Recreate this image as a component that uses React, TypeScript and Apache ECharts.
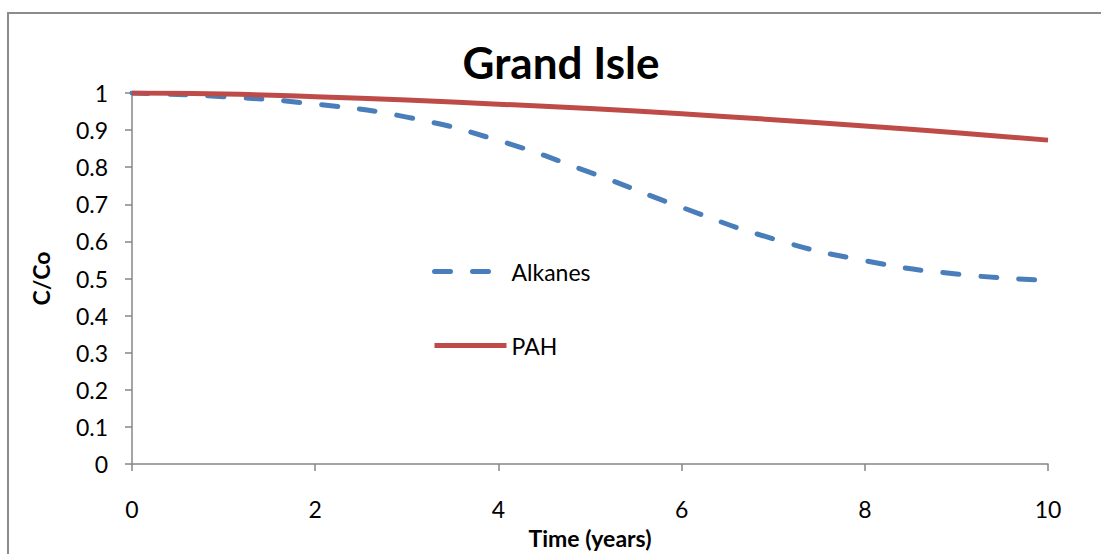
import React, { useEffect, useRef } from "react";
import * as echarts from "echarts";

const years = [0, 1, 2, 3, 4, 5, 6, 7, 8, 9, 10];
const alkanes = [1.0, 0.99, 0.97, 0.935, 0.872, 0.786, 0.692, 0.607, 0.548, 0.512, 0.495];
const pah = [1.0, 0.997, 0.99, 0.981, 0.97, 0.958, 0.944, 0.928, 0.911, 0.893, 0.873];
const seriesNames = ["Alkanes", "PAH"];
const titleText = "Grand Isle";
const xName = "Time (years)";
const yName = "C/Co";

const FONT = "Lato";

export default function App() {
  const ref = useRef<HTMLDivElement>(null);
  useEffect(() => {
    document.body.style.margin = "0";
    if (!ref.current) return;
    const chart = echarts.init(ref.current, undefined, { renderer: "svg" });
    const axisColor = "#868686";
    chart.setOption({
      animation: false,
      backgroundColor: "#ffffff",
      title: {
        text: titleText,
        left: 556,
        textAlign: "center",
        top: 35,
        textStyle: { fontFamily: FONT, fontWeight: "bold", fontSize: 44, color: "#000" },
      },
      graphic: [
        {
          type: "line",
          shape: { x1: 8, y1: 12, x2: 8, y2: 600 },
          style: { stroke: "#8c8c8c", lineWidth: 2 },
          silent: true,
        },
        {
          type: "line",
          shape: { x1: 7, y1: 13, x2: 1200, y2: 13 },
          style: { stroke: "#8c8c8c", lineWidth: 2 },
          silent: true,
        },
      ],
      legend: {
        orient: "vertical",
        left: 427,
        top: 255,
        itemWidth: 72,
        itemHeight: 26,
        itemGap: 51,
        itemStyle: { opacity: 0 },
        lineStyle: { width: 5 },
        textStyle: { fontFamily: FONT, fontSize: 23, color: "#000" },
        data: seriesNames,
      },
      grid: { left: 132, width: 916, top: 93, height: 374, containLabel: false },
      xAxis: {
        type: "value",
        min: 0,
        max: 10,
        interval: 2,
        name: xName,
        nameLocation: "middle",
        nameGap: 62,
        nameTextStyle: { fontFamily: FONT, fontWeight: "bold", fontSize: 23, color: "#000" },
        axisLine: { lineStyle: { color: axisColor, width: 1.5 } },
        axisTick: { show: true, inside: false, length: 7, lineStyle: { color: axisColor, width: 1.5 } },
        axisLabel: { fontFamily: FONT, fontSize: 23, color: "#000", margin: 33 },
        splitLine: { show: false },
      },
      yAxis: {
        type: "value",
        min: 0,
        max: 1,
        interval: 0.1,
        name: yName,
        nameLocation: "middle",
        nameGap: 80,
        nameTextStyle: { fontFamily: FONT, fontWeight: "bold", fontSize: 23, color: "#000" },
        axisLine: { show: true, lineStyle: { color: axisColor, width: 1.5 } },
        axisTick: { show: true, inside: false, length: 7, lineStyle: { color: axisColor, width: 1.5 } },
        axisLabel: {
          fontFamily: FONT,
          fontSize: 23,
          color: "#000",
          margin: 24,
          formatter: (v: number) => String(Math.round(v * 10) / 10),
        },
        splitLine: { show: false },
      },
      series: [
        {
          name: seriesNames[0],
          type: "line",
          smooth: true,
          symbol: "none",
          data: years.map((t, i) => [t, alkanes[i]]),
          lineStyle: { color: "#4a7ebb", width: 5, type: [16, 22], cap: "round" },
          itemStyle: { color: "#4a7ebb" },
          z: 2,
        },
        {
          name: seriesNames[1],
          type: "line",
          smooth: true,
          symbol: "none",
          data: years.map((t, i) => [t, pah[i]]),
          lineStyle: { color: "#be4b48", width: 5 },
          itemStyle: { color: "#be4b48" },
          z: 3,
        },
      ],
    });
    return () => chart.dispose();
  }, []);
  return <div ref={ref} style={{ width: 1101, height: 554 }} />;
}
